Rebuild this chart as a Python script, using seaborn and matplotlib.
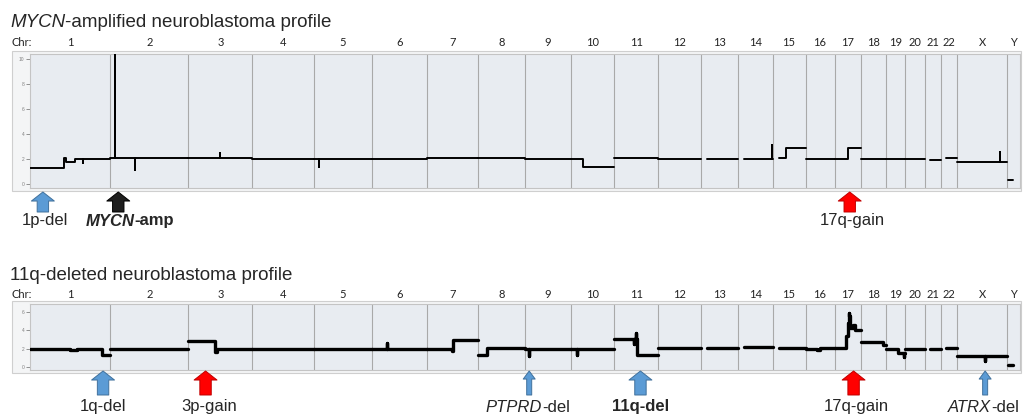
import numpy as np
import pandas as pd
import matplotlib
matplotlib.use("Agg")
import matplotlib.pyplot as plt
from matplotlib.patches import Rectangle
import seaborn as sns

# chromosome layout (Mb); Y only partly shown in the profile
CHROMS = [str(i) for i in range(1, 23)] + ["X", "Y"]
CHROM_LEN = [249.3, 243.2, 198.0, 191.2, 180.9, 171.1, 159.1, 146.4, 141.2, 135.5,
             135.0, 133.9, 115.2, 107.3, 102.5, 90.4, 81.2, 78.1, 59.1, 63.0,
             48.1, 51.3, 155.3, 40.0]

# segments: (chrom, start Mb, end Mb, copy number)
MYCN_SEGMENTS = [
    ("1", 0, 106, 1.28), ("1", 106, 111, 2.1), ("1", 111, 140, 1.75), ("1", 140, 249.3, 2.0),
    ("2", 0, 243.2, 2.05), ("3", 0, 198.0, 2.05), ("4", 0, 191.2, 2.0),
    ("5", 0, 180.9, 2.0), ("6", 0, 171.1, 2.0), ("7", 0, 159.1, 2.05),
    ("8", 0, 146.4, 2.05), ("9", 0, 141.2, 2.0),
    ("10", 0, 38, 2.0), ("10", 38, 135.5, 1.33),
    ("11", 0, 135.0, 2.05), ("12", 0, 133.9, 2.0), ("13", 19, 115.2, 2.0),
    ("14", 19, 107.3, 2.0), ("15", 20, 42, 2.1), ("15", 42, 102.5, 2.85),
    ("16", 0, 90.4, 2.0), ("17", 0, 42, 2.0), ("17", 42, 81.2, 2.9),
    ("18", 0, 78.1, 2.0), ("19", 0, 59.1, 2.0), ("20", 0, 63.0, 2.0),
    ("21", 15, 48.1, 1.95), ("22", 17, 51.3, 2.1), ("X", 0, 155.3, 1.8),
    ("Y", 2, 18, 0.35),
]
MYCN_SPIKES = [("1", 165, 1.7), ("2", 16, 11.0), ("2", 78, 1.1), ("3", 99, 2.5),
               ("5", 15, 1.4), ("14", 105, 3.1), ("X", 134, 2.6)]

DEL11Q_SEGMENTS = [
    ("1", 0, 124, 2.0), ("1", 124, 146, 1.9), ("1", 146, 223, 2.0), ("1", 223, 249.3, 1.3),
    ("2", 0, 243.2, 2.0), ("3", 0, 83, 2.85), ("3", 83, 88, 1.6), ("3", 88, 198.0, 2.0),
    ("4", 0, 191.2, 2.0), ("5", 0, 180.9, 2.0), ("6", 0, 171.1, 2.0),
    ("7", 0, 77, 2.0), ("7", 77, 80, 1.7), ("7", 80, 159.1, 2.95),
    ("8", 0, 27, 1.3), ("8", 27, 146.4, 2.05), ("9", 0, 141.2, 2.0),
    ("10", 0, 135.5, 2.0), ("11", 0, 70, 3.05), ("11", 70, 135.0, 1.3),
    ("12", 0, 133.9, 2.05), ("13", 19, 115.2, 2.1), ("14", 19, 107.3, 2.15),
    ("15", 20, 102.5, 2.1), ("16", 0, 35, 2.0), ("16", 35, 46, 1.9), ("16", 46, 90.4, 2.05),
    ("17", 0, 34, 2.1), ("17", 34, 42, 3.4), ("17", 42, 45, 4.8), ("17", 45, 48, 5.6),
    ("17", 48, 56, 4.3), ("17", 56, 64, 4.6), ("17", 64, 81.2, 4.0),
    ("18", 0, 70, 2.7), ("18", 70, 78.1, 2.4), ("19", 0, 38, 1.95), ("19", 38, 59.1, 1.5),
    ("20", 0, 63.0, 2.0), ("21", 15, 48.1, 1.95), ("22", 17, 51.3, 2.05),
    ("X", 0, 155.3, 1.25), ("Y", 2, 18, 0.25),
]
DEL11Q_SPIKES = [("6", 47, 2.6), ("9", 12, 1.2), ("10", 19, 1.3), ("11", 62, 2.5),
                 ("11", 68, 3.7), ("17", 46, 5.9), ("19", 56, 1.1), ("X", 87, 0.6)]

# annotated events: label, chrom, position (Mb)
MYCN_EVENTS = ["1p-del", "MYCN-amp", "17q-gain"]
MYCN_EVENT_CHROM = ["1", "2", "17"]
MYCN_EVENT_POS = [40, 25, 47]
DEL11Q_EVENTS = ["1q-del", "3p-gain", "PTPRD-del", "11q-del", "17q-gain", "ATRX-del"]
DEL11Q_EVENT_CHROM = ["1", "3", "9", "11", "17", "X"]
DEL11Q_EVENT_POS = [227, 53, 12, 81, 59, 87]

GENES = {"MYCN", "PTPRD", "ATRX"}
BOLD_LABELS = {"MYCN-amp", "11q-del"}
THIN_ARROWS = {"PTPRD-del", "ATRX-del"}
# label shift in px (for gene labels: where the gene name ends)
LABEL_DX = {"1p-del": 2, "MYCN-amp": 16, "17q-gain": 3, "1q-del": 0, "3p-gain": 4,
            "PTPRD-del": 13, "11q-del": 0, "ATRX-del": 6}

W, H = 1023, 417
PT = 0.72  # px -> pt at 100 dpi

OFFSET = dict(zip(CHROMS, np.concatenate([[0], np.cumsum(CHROM_LEN)[:-1]])))
TOTAL = float(np.sum(CHROM_LEN))


def build_profile(segments, spikes):
    rows = []
    for chrom, start, end, cn in segments:
        pts = [(start, cn)]
        for s_chrom, pos, val in sorted(spikes, key=lambda s: s[1]):
            if s_chrom == chrom and start <= pos < end:
                pts += [(pos, cn), (pos, val), (pos, cn)]
        pts.append((end, cn))
        for pos, val in pts:
            rows.append({"chrom": chrom, "gpos": OFFSET[chrom] + pos, "cn": val})
    return pd.DataFrame(rows)


def event_style(label):
    if label.endswith("-amp"):
        return "#1e1e1e", "#000000"
    if label.endswith("-gain"):
        return "#ff0000", "#c00000"
    return "#5b9bd5", "#41719c"


def px_axes(fig, left, top, right, bottom):
    return fig.add_axes([left / W, 1 - bottom / H, (right - left) / W, (bottom - top) / H])


def draw_panel(ax, df, ylim, yticks, lw, chr_dy):
    ax.set_facecolor("#e8ecf1")
    for off in OFFSET.values():
        if off > 0:
            ax.axvline(off, color="#a9a9a9", lw=0.8, zorder=1)
    sns.lineplot(data=df, x="gpos", y="cn", units="chrom", estimator=None, sort=False,
                 color="black", linewidth=lw, ax=ax, zorder=3)
    ax.set_xlim(0, TOTAL)
    ax.set_ylim(*ylim)
    ax.set_xticks([])
    ax.set_yticks(yticks)
    ax.tick_params(axis="y", left=True, labelsize=3.5, length=3, width=0.6,
                   colors="#808080", pad=1)
    ax.set_xlabel("")
    ax.set_ylabel("")
    for sp in ax.spines.values():
        sp.set_color("#c4c4c4")
        sp.set_linewidth(0.8)
    for c, ln in zip(CHROMS, CHROM_LEN):
        ax.annotate(c, xy=(OFFSET[c] + ln / 2, 1), xycoords=("data", "axes fraction"),
                    xytext=(0, chr_dy * PT), textcoords="offset points",
                    ha="center", va="center", fontsize=8, family="Lato", color="#222222")


def draw_events(ax, events, chroms, positions, tail_px, tip_px, label_px):
    for label, c, pos in zip(events, chroms, positions):
        gx = OFFSET[c] + pos
        fc, ec = event_style(label)
        if label in THIN_ARROWS:
            style = "simple,head_length=5.8,head_width=8.6,tail_width=3.6"
        else:
            style = "simple,head_length=6.5,head_width=16.5,tail_width=8.2"
        ax.annotate("", xy=(gx, 0), xycoords=("data", "axes fraction"),
                    xytext=(0, -tail_px * PT), textcoords="offset points",
                    arrowprops=dict(arrowstyle=style, mutation_scale=1, fc=fc, ec=ec,
                                    lw=0.7, shrinkA=0, shrinkB=tip_px * PT),
                    annotation_clip=False)
        weight = "bold" if label in BOLD_LABELS else "normal"
        gene, rest = label.split("-", 1)
        dx = LABEL_DX[label] * PT
        if gene in GENES:
            t1 = ax.annotate(gene, xy=(gx, 0), xycoords=("data", "axes fraction"),
                             xytext=(dx, -label_px * PT), textcoords="offset points",
                             ha="right", va="center", fontsize=12, style="italic",
                             weight=weight, annotation_clip=False)
            ax.annotate("-" + rest, xy=(1, 0), xycoords=t1, ha="left", va="bottom",
                        fontsize=12, weight=weight)
        else:
            ax.annotate(label, xy=(gx, 0), xycoords=("data", "axes fraction"),
                        xytext=(dx, -label_px * PT), textcoords="offset points",
                        ha="center", va="center", fontsize=12, weight=weight,
                        annotation_clip=False)


def draw_title(fig, ax, x_px, base_px, italic, rest):
    t1 = fig.text(x_px / W, 1 - base_px / H, italic, fontsize=13.5, style="italic",
                  ha="left", va="baseline")
    ax.annotate(rest, xy=(1, 0), xycoords=t1, ha="left", va="bottom", fontsize=13.5)


sns.set_theme(style="white")
plt.rcParams["font.family"] = ["Liberation Sans", "DejaVu Sans"]

mycn_df = build_profile(MYCN_SEGMENTS, MYCN_SPIKES)
del11q_df = build_profile(DEL11Q_SEGMENTS, DEL11Q_SPIKES)

fig = plt.figure(figsize=(W / 100, H / 100), dpi=100)
fig.patch.set_facecolor("white")

for top, bottom in [(51, 191), (301, 373)]:
    fig.add_artist(Rectangle((12 / W, 1 - bottom / H), (1021 - 12) / W, (bottom - top) / H,
                             transform=fig.transFigure, fc="#f4f5f6", ec="#cfcfcf",
                             lw=0.8, zorder=-1))

ax1 = px_axes(fig, 30, 54, 1020, 188)
ax2 = px_axes(fig, 30, 304, 1020, 370)

draw_panel(ax1, mycn_df, (-0.32, 10.4), [0, 2, 4, 6, 8, 10], 1.4, 12)
draw_panel(ax2, del11q_df, (-0.33, 6.87), [0, 2, 4, 6], 2.4, 9)

draw_events(ax1, MYCN_EVENTS, MYCN_EVENT_CHROM, MYCN_EVENT_POS, 24, 4, 33)
draw_events(ax2, DEL11Q_EVENTS, DEL11Q_EVENT_CHROM, DEL11Q_EVENT_POS, 25, 1, 37)

draw_title(fig, ax1, 10, 27, "MYCN", "-amplified neuroblastoma profile")
fig.text(10 / W, 1 - 280 / H, "11q-deleted neuroblastoma profile", fontsize=13.5,
         ha="left", va="baseline")

for y_px in [42, 295]:
    fig.text(12 / W, 1 - y_px / H, "Chr:", fontsize=8, family="Lato",
             ha="left", va="center", color="#222222")

fig.savefig("out.png", dpi=100)
